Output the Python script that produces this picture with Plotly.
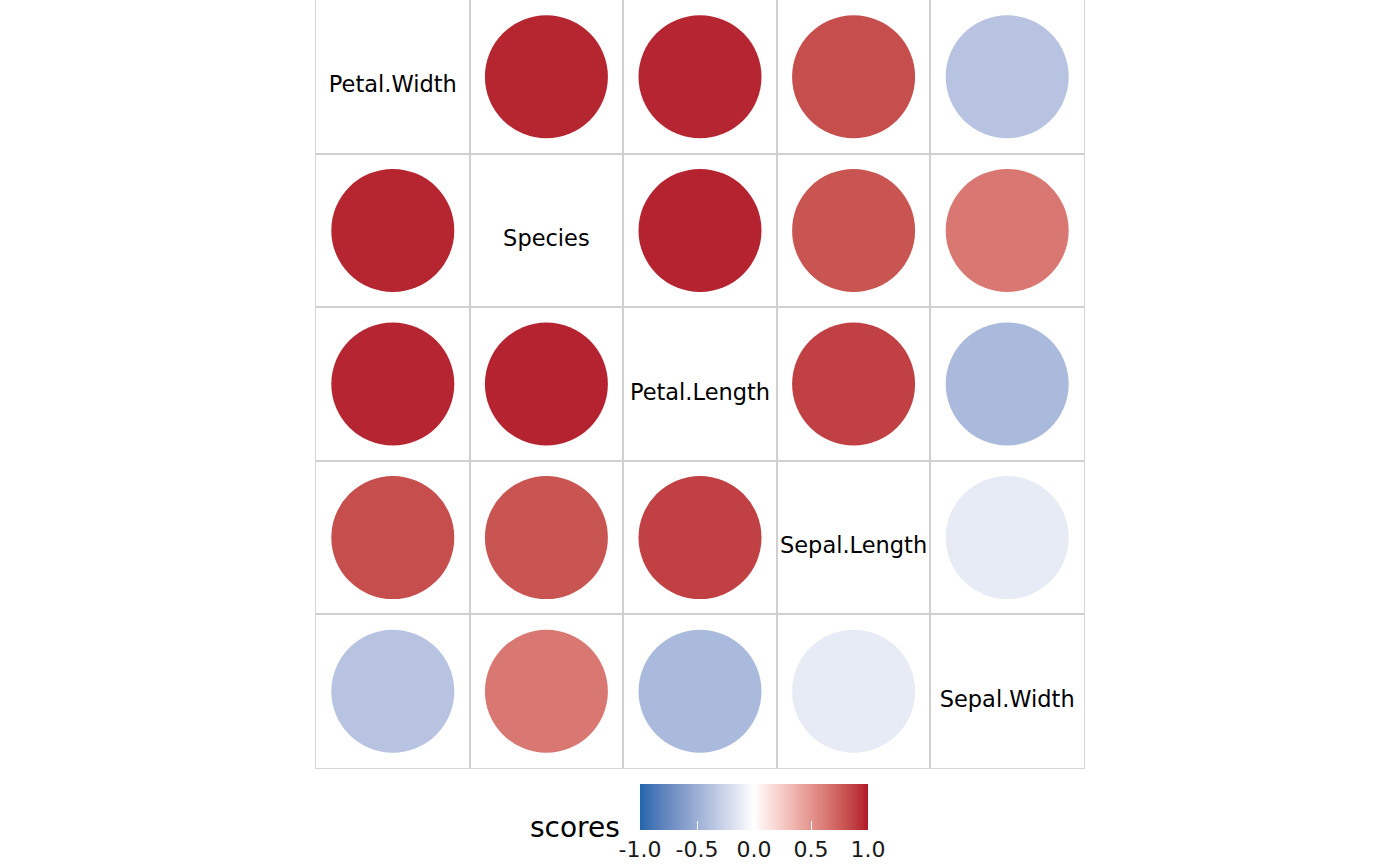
import numpy as np
import plotly.graph_objects as go

variables = ["Petal.Width", "Species", "Petal.Length", "Sepal.Length", "Sepal.Width"]
scores = [
    [None, 0.964, 0.963, 0.818, -0.366],
    [0.964, None, 0.970, 0.787, 0.633],
    [0.963, 0.970, None, 0.872, -0.428],
    [0.818, 0.787, 0.872, None, -0.118],
    [-0.366, 0.633, -0.428, -0.118, None],
]
tick_values = [-1.0, -0.5, 0.0, 0.5, 1.0]
tick_labels = ["-1.0", "-0.5", "0.0", "0.5", "1.0"]
low_color, mid_color, high_color = "#2166AC", "#FFFFFF", "#B2182B"


# ---- Lab interpolation (like ggplot2 scale_fill_gradient2) ----
def hex_to_rgb(h):
    h = h.lstrip("#")
    return np.array([int(h[i:i + 2], 16) for i in (0, 2, 4)]) / 255.0


def srgb_to_lin(c):
    return np.where(c <= 0.04045, c / 12.92, ((c + 0.055) / 1.055) ** 2.4)


def lin_to_srgb(c):
    c = np.clip(c, 0, 1)
    return np.where(c <= 0.0031308, 12.92 * c, 1.055 * c ** (1 / 2.4) - 0.055)


M = np.array([[0.4124564, 0.3575761, 0.1804375],
              [0.2126729, 0.7151522, 0.0721750],
              [0.0193339, 0.1191920, 0.9503041]])
Minv = np.linalg.inv(M)
WHITE = np.array([0.95047, 1.0, 1.08883])


def f(t):
    d = 6 / 29
    return np.where(t > d ** 3, np.cbrt(t), t / (3 * d * d) + 4 / 29)


def finv(t):
    d = 6 / 29
    return np.where(t > d, t ** 3, 3 * d * d * (t - 4 / 29))


def rgb_to_lab(rgb):
    xyz = M @ srgb_to_lin(rgb) / WHITE
    fx, fy, fz = f(xyz)
    return np.array([116 * fy - 16, 500 * (fx - fy), 200 * (fy - fz)])


def lab_to_hex(lab):
    L, a, b = lab
    fy = (L + 16) / 116
    fx = fy + a / 500
    fz = fy - b / 200
    xyz = finv(np.array([fx, fy, fz])) * WHITE
    rgb = lin_to_srgb(Minv @ xyz)
    r, g, bb = (np.round(rgb * 255)).astype(int)
    return "#%02x%02x%02x" % (r, g, bb)


lab_low, lab_mid, lab_high = (rgb_to_lab(hex_to_rgb(c)) for c in (low_color, mid_color, high_color))
colorscale = []
n = 40
for i in range(n + 1):
    v = -1 + 2 * i / n
    if v < 0:
        lab = lab_mid + (lab_low - lab_mid) * (-v)
    else:
        lab = lab_mid + (lab_high - lab_mid) * v
    colorscale.append([i / n, lab_to_hex(lab)])

# ---- data to marks ----
cx, cy, cv = [], [], []
lx, ly, lt = [], [], []
for r, row in enumerate(scores):
    for c, val in enumerate(row):
        if val is None:
            lx.append(c)
            ly.append(r + 0.065)
            lt.append(variables[r])
        else:
            cx.append(c)
            cy.append(r)
            cv.append(val)

fig = go.Figure()
fig.add_trace(go.Scatter(
    x=cx, y=cy, mode="markers",
    marker=dict(
        size=123, color=cv, colorscale=colorscale, cmin=-1, cmax=1,
        line=dict(width=0),
        showscale=True,
        colorbar=dict(
            orientation="h",
            lenmode="pixels", len=228,
            thickness=46,
            x=(754 - 316) / 768, xanchor="center",
            y=(768 - 784) / 768, yanchor="top",
            xpad=0, ypad=0,
            outlinewidth=0,
            tickvals=tick_values, ticktext=tick_labels,
            ticks="inside", ticklen=9, tickcolor="white", tickwidth=1,
            tickfont=dict(family="DejaVu Sans", size=22, color="#1a1a1a"),
        ),
    ),
    hoverinfo="skip", showlegend=False,
))
fig.add_trace(go.Scatter(
    x=lx, y=ly, mode="text", text=lt,
    textposition="middle center",
    textfont=dict(family="DejaVu Sans", size=22.5, color="black"),
    hoverinfo="skip", showlegend=False,
))

fig.add_annotation(
    text="scores", xref="paper", yref="paper",
    x=(622 - 316) / 768, xanchor="right",
    y=(768 - 827) / 768, yanchor="middle",
    showarrow=False,
    font=dict(family="DejaVu Sans", size=28, color="black"),
)

axis_common = dict(
    tickvals=[0.5, 1.5, 2.5, 3.5],
    showticklabels=False, ticks="",
    showgrid=True, gridcolor="#d0d0d0", gridwidth=2,
    zeroline=False,
    showline=True, mirror=True, linecolor="#d6d6d6", linewidth=1,
)
fig.update_xaxes(range=[-0.5, 4.5], **axis_common)
fig.update_yaxes(range=[4.5, -0.5], **axis_common)

fig.update_layout(
    width=1400, height=866, autosize=False,
    margin=dict(l=316, r=316, t=0, b=98, autoexpand=False),
    paper_bgcolor="white", plot_bgcolor="white",
    font=dict(family="DejaVu Sans"),
)

fig.write_html("out.html")
